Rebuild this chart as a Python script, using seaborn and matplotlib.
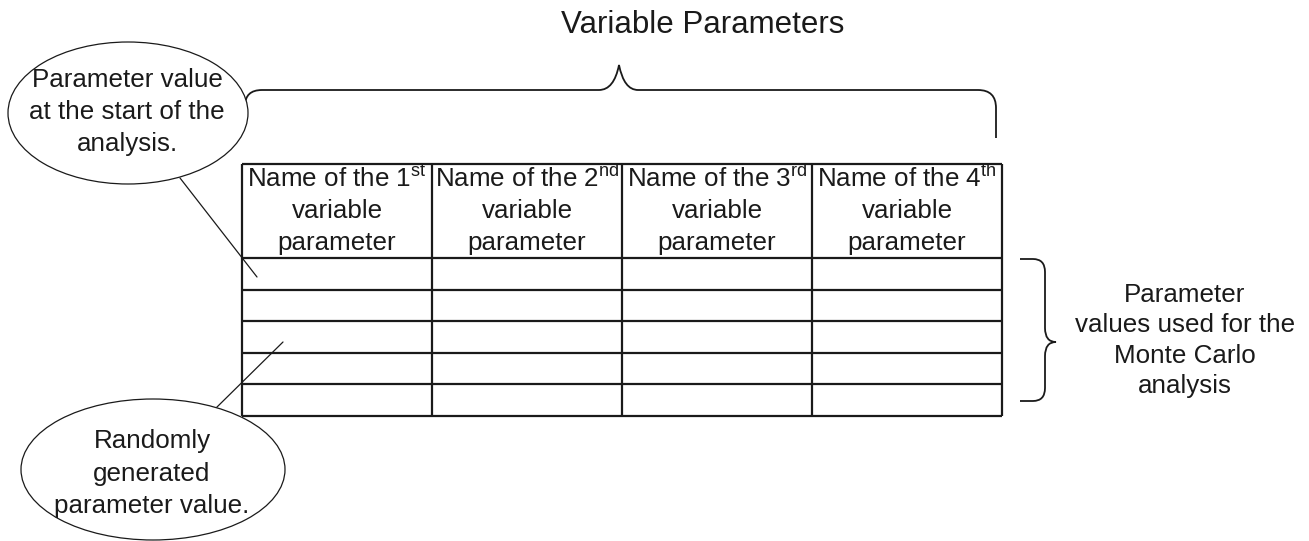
import numpy as np
import seaborn as sns
import matplotlib.pyplot as plt
from matplotlib.patches import Ellipse
from matplotlib.path import Path
from matplotlib.patches import PathPatch

# Diagram content
title = "Variable Parameters"
ordinals = ["1", "2", "3", "4"]
suffixes = ["st", "nd", "rd", "th"]
header_tail = ["variable", "parameter"]
n_value_rows = 5
start_note = ["Parameter value", "at the start of the", "analysis."]
random_note = ["Randomly", "generated", "parameter value."]
side_note = ["Parameter", "values used for the", "Monte Carlo", "analysis"]

sns.set_theme(style="white")
plt.rcParams["font.family"] = ["Liberation Sans", "DejaVu Sans"]
plt.rcParams["mathtext.fontset"] = "custom"
plt.rcParams["mathtext.rm"] = "Liberation Sans"

FS = 18.7
INK = "#1a1a1a"

fig = plt.figure(figsize=(13.09, 5.41), dpi=100)
ax = fig.add_axes([0, 0, 1, 1])
ax.set_xlim(0, 1309)
ax.set_ylim(541, 0)
ax.axis("off")


def text_block(lines, x, y0, step, size=FS):
    for i, s in enumerate(lines):
        ax.text(x, y0 + i * step, s, ha="center", va="baseline",
                fontsize=size, color=INK, zorder=5)


# table layout
left, top = 242, 164
col_w, head_h, row_h = 190, 94, 31.6
col_edges = left + col_w * np.arange(len(ordinals) + 1)
row_edges = np.concatenate([[top], top + head_h + row_h * np.arange(n_value_rows + 1)])

ax.hlines(row_edges, col_edges[0], col_edges[-1], color=INK, lw=1.6, zorder=2)
ax.vlines(col_edges, row_edges[0], row_edges[-1], color=INK, lw=1.6, zorder=2)

for i, (n, suf) in enumerate(zip(ordinals, suffixes)):
    cx = (col_edges[i] + col_edges[i + 1]) / 2
    lines = ["Name of the " + n + r"$^{\mathrm{" + suf + "}}$"] + header_tail
    text_block(lines, cx, top + 23, 31.5)

# title and top brace
ax.text(703, 33, title, ha="center", va="baseline", fontsize=22.5, color=INK)
M, L, C = Path.MOVETO, Path.LINETO, Path.CURVE3
top_brace = [(245, 106), (245, 90), (262, 90), (599, 90), (614, 90), (619, 65),
             (624, 90), (638, 90), (978, 90), (996, 90), (996, 108), (996, 138)]
top_codes = [M, C, C, L, C, C, C, C, L, C, C, L]
ax.add_patch(PathPatch(Path(top_brace, top_codes), fill=False, ec=INK, lw=1.3, zorder=1))

# right brace
side_brace = [(1020, 259), (1033, 259), (1045, 259), (1045, 272), (1045, 328),
              (1045, 342), (1056, 342), (1045, 342), (1045, 356), (1045, 388),
              (1045, 401), (1033, 401), (1020, 401)]
side_codes = [M, L, C, C, L, C, C, C, C, L, C, C, L]
ax.add_patch(PathPatch(Path(side_brace, side_codes), fill=False, ec=INK, lw=1.3, zorder=1))
text_block(side_note, 1185, 302, 30.5)

# callouts
ax.plot([180, 257], [178, 277], color=INK, lw=0.9, zorder=3)
ax.plot([216, 283], [408, 342], color=INK, lw=0.9, zorder=3)
ax.add_patch(Ellipse((128, 113), 240, 142, fc="white", ec=INK, lw=0.9, zorder=4))
ax.add_patch(Ellipse((153, 469.5), 264, 141, fc="white", ec=INK, lw=0.9, zorder=4))
text_block(start_note, 127, 87, 32)
text_block(random_note, 152, 448, 32.5)

fig.savefig("out.png", dpi=100, facecolor="white")
